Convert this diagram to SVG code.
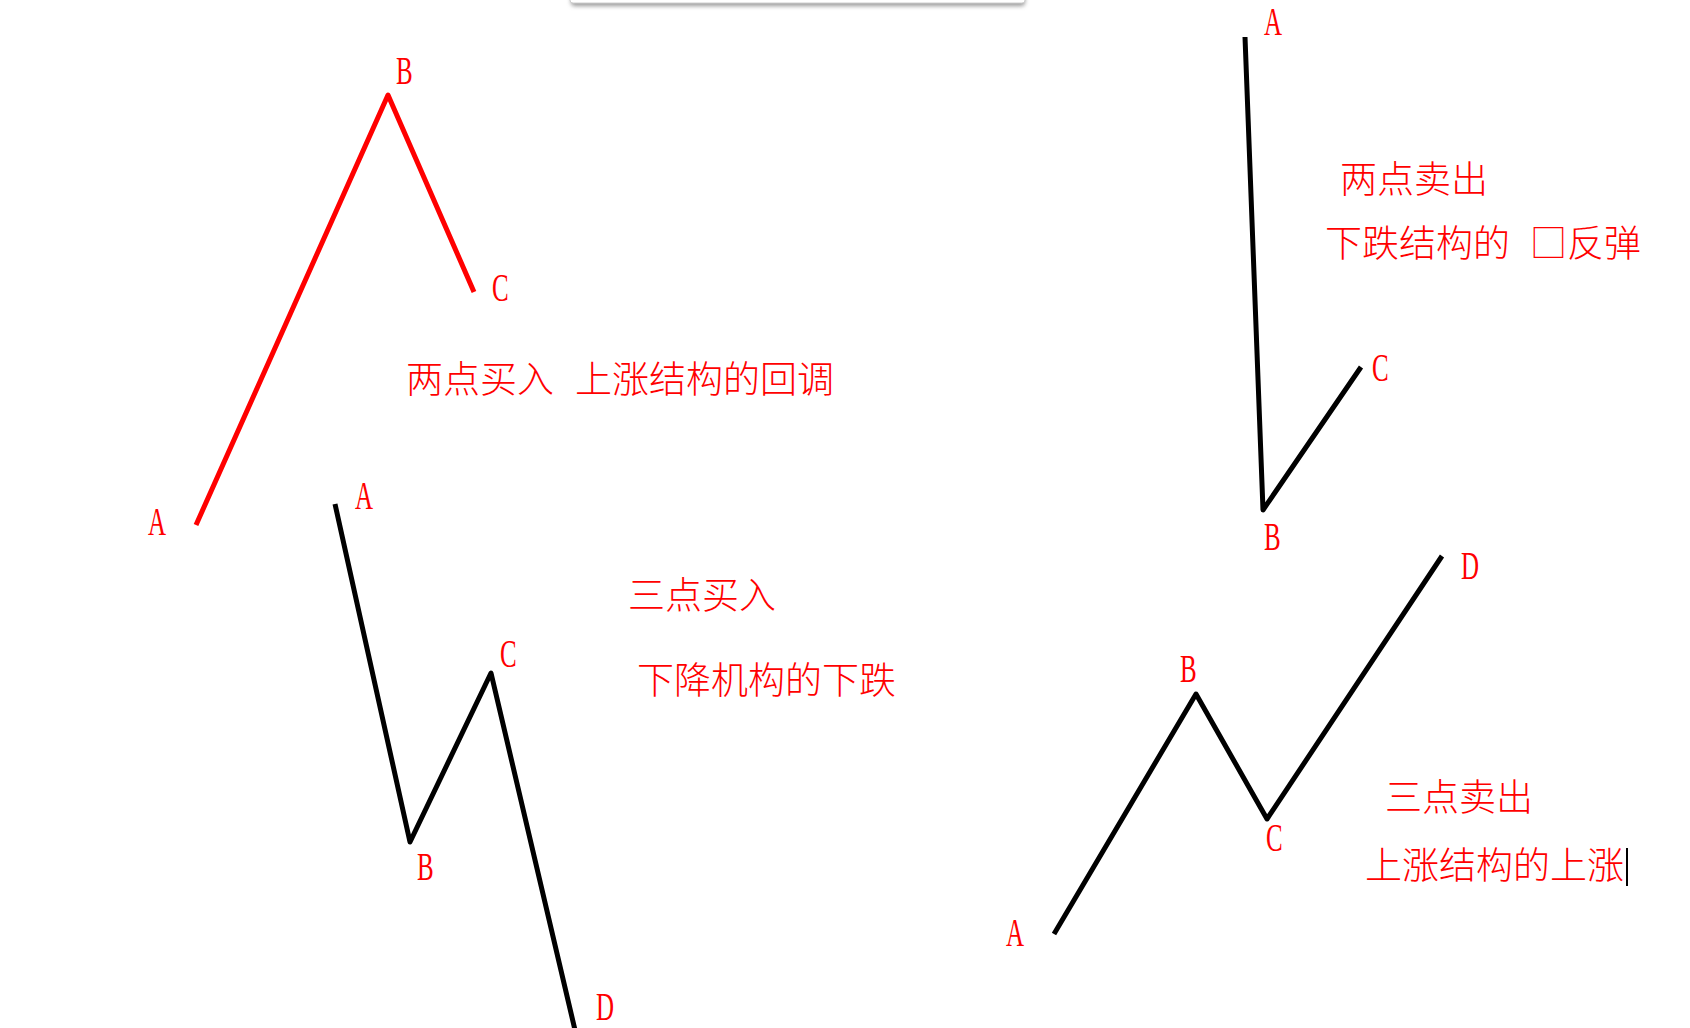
<svg xmlns="http://www.w3.org/2000/svg" width="1690" height="1028" viewBox="0 0 1690 1028">
<defs>
<filter id="sh" x="-5%" y="-100%" width="110%" height="400%">
<feGaussianBlur stdDeviation="2"/>
</filter>
</defs>
<style>
.lbl{font-family:"Liberation Serif","Noto Sans CJK SC",serif;font-size:39px;fill:#ff0000}
.cn{font-family:"Noto Sans CJK SC",sans-serif;font-size:37px;font-weight:300;fill:#ff0000}
.red{fill:none;stroke:#ff0000;stroke-width:5;stroke-linejoin:round;stroke-linecap:butt}
.blk{fill:none;stroke:#000000;stroke-width:5;stroke-linejoin:round;stroke-linecap:butt}
</style>
<rect width="1690" height="1028" fill="#ffffff"/>
<g id="topbar">
<rect x="571" y="-10" width="454" height="16" rx="4" fill="#9a9a9a" filter="url(#sh)"/>
<rect x="570" y="-10" width="455" height="13" rx="3" fill="#ffffff" stroke="#cfcfcf" stroke-width="1"/>
</g>
<g id="connectors">
<polyline class="red" points="196,525 388,95 474,292"/>
<polyline class="blk" points="1245,37 1263,510 1361,367"/>
<polyline class="blk" points="335,504 410,842 491,673 575,1030"/>
<polyline class="blk" points="1054,934 1196,694 1267,819 1442,556"/>
</g>
<g id="diagram-two-point-buy">
<text class="lbl" transform="translate(396,84) scale(0.64,1)">B</text>
<text class="lbl" transform="translate(492,301) scale(0.64,1)">C</text>
<text class="lbl" transform="translate(148,535) scale(0.64,1)">A</text>
<text class="cn" x="406" y="393">两点买入<tspan x="575">上涨结构的回调</tspan></text>
</g>
<g id="diagram-two-point-sell">
<text class="lbl" transform="translate(1264,35) scale(0.64,1)">A</text>
<text class="lbl" transform="translate(1372,381) scale(0.64,1)">C</text>
<text class="lbl" transform="translate(1264,550) scale(0.64,1)">B</text>
<text class="cn" x="1340" y="193">两点卖出</text>
<text class="cn" x="1325" y="257">下跌结构的<tspan x="1530">□反弹</tspan></text>
</g>
<g id="diagram-three-point-buy">
<text class="lbl" transform="translate(355,509) scale(0.64,1)">A</text>
<text class="lbl" transform="translate(417,880) scale(0.64,1)">B</text>
<text class="lbl" transform="translate(500,667) scale(0.64,1)">C</text>
<text class="lbl" transform="translate(596,1020) scale(0.64,1)">D</text>
<text class="cn" x="628" y="609">三点买入</text>
<text class="cn" x="637" y="694">下降机构的下跌</text>
</g>
<g id="diagram-three-point-sell">
<text class="lbl" transform="translate(1006,946) scale(0.64,1)">A</text>
<text class="lbl" transform="translate(1180,682) scale(0.64,1)">B</text>
<text class="lbl" transform="translate(1266,851) scale(0.64,1)">C</text>
<text class="lbl" transform="translate(1461,579) scale(0.64,1)">D</text>
<text class="cn" x="1385" y="811">三点卖出</text>
<text class="cn" x="1365" y="879">上涨结构的上涨</text>
<line x1="1627" y1="848" x2="1627" y2="886" stroke="#000000" stroke-width="2"/>
</g>
</svg>
